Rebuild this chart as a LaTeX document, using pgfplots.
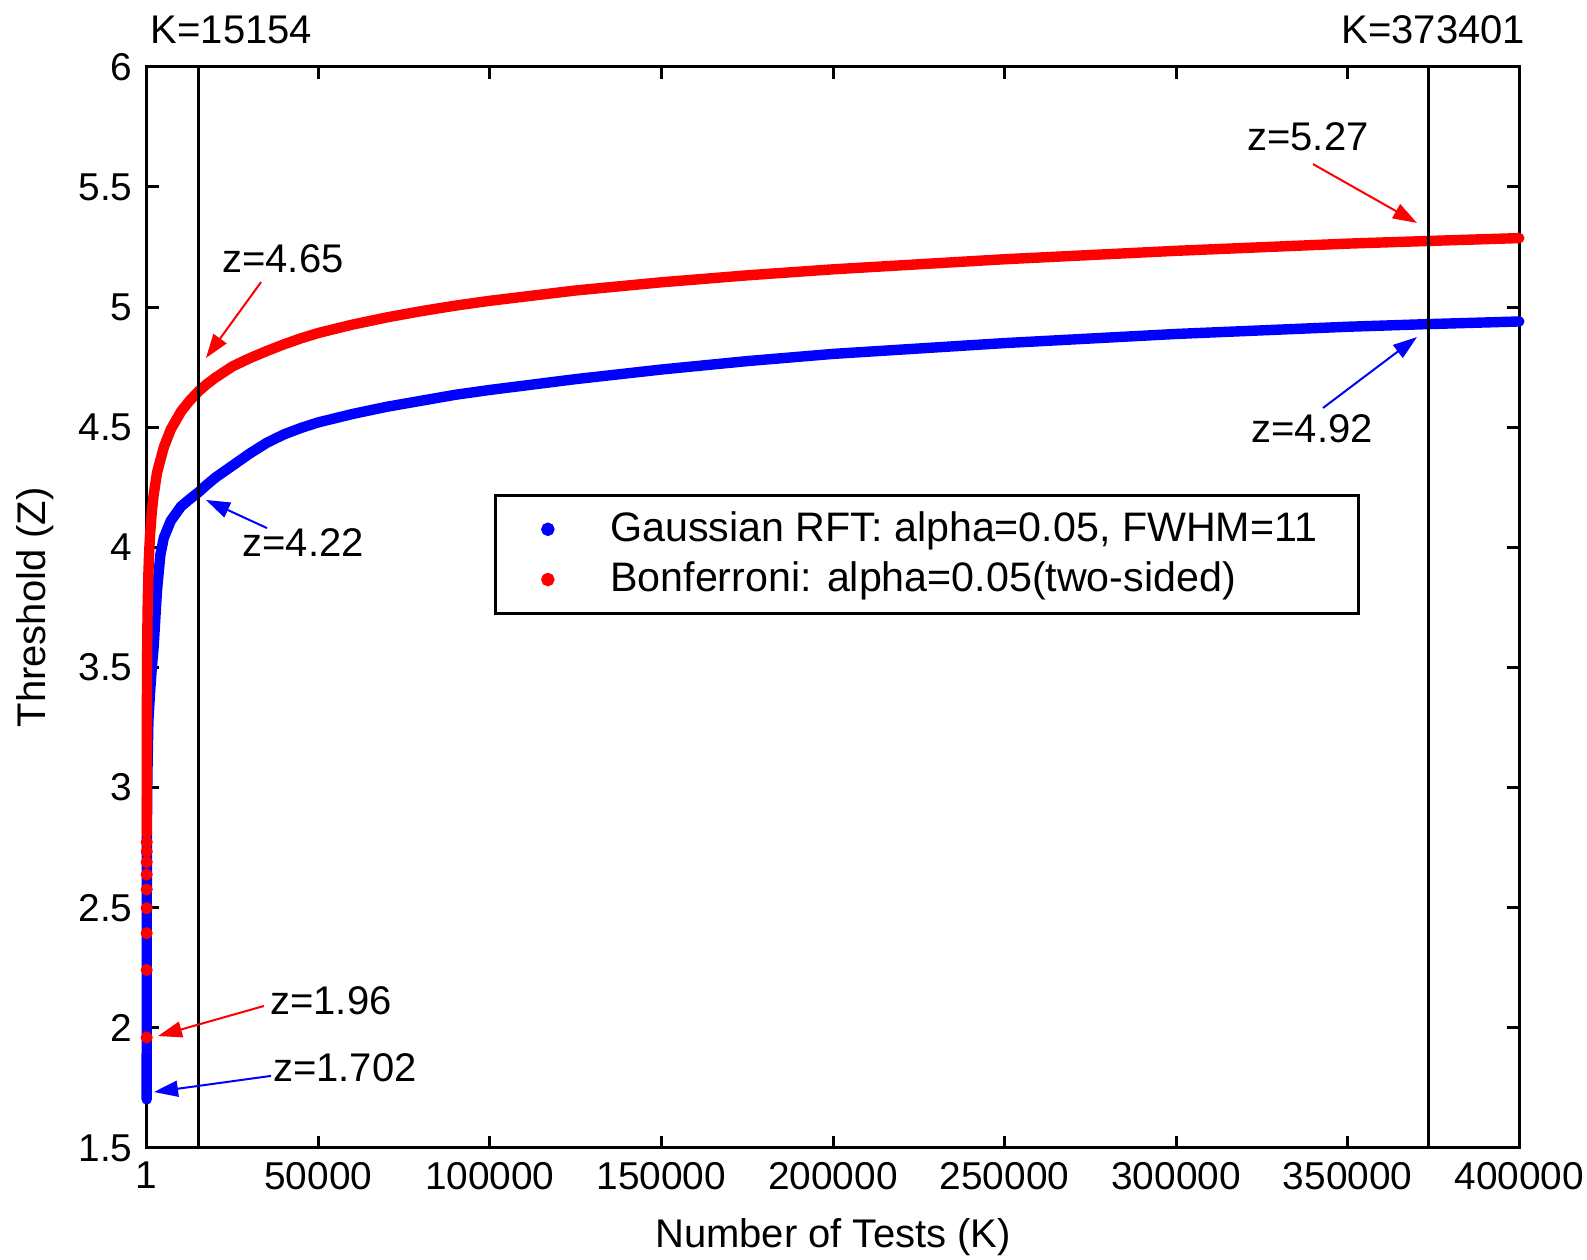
\documentclass[border=0pt]{standalone}
\usepackage{pgfplots}
\pgfplotsset{compat=1.18}
\usepackage{fontspec}
\setmainfont{Liberation Sans}
\usetikzlibrary{arrows.meta}

\pgfplotstableread{
K z
1 1.702
2 1.85
3 1.95
5 2.08
10 2.28
20 2.48
50 2.72
100 2.88
200 3.05
500 3.28
1000 3.40
1500 3.50
2000 3.58
2500 3.70
3000 3.82
4000 3.97
5000 4.04
7000 4.11
10000 4.17
12500 4.20
15154 4.23
17500 4.26
20000 4.29
25000 4.34
30000 4.39
35000 4.435
40000 4.47
45000 4.497
50000 4.52
60000 4.555
70000 4.585
80000 4.61
90000 4.635
100000 4.655
115000 4.682
125000 4.70
150000 4.74
175000 4.775
200000 4.805
250000 4.85
300000 4.888
350000 4.918
373401 4.929
400000 4.94
}\rftdata

\pgfplotstableread{
K z
10 2.807
15 2.935
20 3.023
30 3.144
50 3.291
100 3.481
200 3.662
300 3.765
500 3.891
700 3.975
1000 4.056
1500 4.150
2000 4.215
3000 4.310
5000 4.417
7000 4.490
10000 4.565
12500 4.610
15154 4.650
17500 4.679
20000 4.706
25000 4.753
30000 4.787
35000 4.817
40000 4.845
45000 4.870
50000 4.892
60000 4.927
70000 4.957
80000 4.983
90000 5.006
100000 5.026
125000 5.069
150000 5.103
175000 5.132
200000 5.157
250000 5.199
300000 5.234
350000 5.264
373401 5.275
400000 5.287
}\bonfdata

\pgfplotstableread{
K z
1 1.960
2 2.241
3 2.394
4 2.498
5 2.576
6 2.638
7 2.690
8 2.734
9 2.773
}\bonfdots

\begin{document}
\begin{tikzpicture}
\begin{axis}[
  at={(0pt,0pt)}, anchor=south west,
  scale only axis,
  width=343.15pt, height=270.3pt,
  xmin=1, xmax=400000, ymin=1.5, ymax=6,
  clip=false,
  axis line style={line width=0.75pt},
  every tick/.style={black, line width=0.75pt},
  major tick length=3pt,
  tick align=inside,
  tick pos=both,
  xticklabel pos=lower, yticklabel pos=left,
  xtick={1,50000,100000,150000,200000,250000,300000,350000,400000},
  xticklabels={1,50000,100000,150000,200000,250000,300000,350000,400000},
  ytick={1.5,2,2.5,3,3.5,4,4.5,5,5.5,6},
  yticklabels={1.5,2,2.5,3,3.5,4,4.5,5,5.5,6},
  scaled x ticks=false,
  ticklabel style={font=\fontsize{9.7}{11}\selectfont},
  /pgf/number format/assume math mode=true,
  xlabel={Number of Tests (K)},
  ylabel={Threshold (Z)},
  xlabel style={at={(axis description cs:0.5,-0.0823)}, anchor=center, font=\fontsize{10}{12}\selectfont},
  ylabel style={at={(axis description cs:-0.0814,0.5)}, anchor=center, font=\fontsize{10}{12}\selectfont},
  legend image code/.code={\draw[only marks] plot coordinates {(4.6pt,0pt)}; \path[draw=none] (0pt,0pt) (5.9pt,0pt);},
  legend style={at={(axis description cs:0.253,0.605)}, anchor=north west,
    draw=black, line width=0.75pt, fill=white,
    font=\fontsize{10.3}{12}\selectfont,
    inner xsep=8.5pt, inner ysep=2.2pt, column sep=12.5pt,
    nodes={inner sep=1.8pt},
    cells={anchor=west}},
]
\addplot[blue, line width=2.6pt, line cap=round, line join=round, forget plot] table[x=K,y=z] {\rftdata};
\addplot[red, only marks, mark=*, mark size=1.3pt, forget plot] table[x=K,y=z] {\bonfdots};
\addplot[red, line width=2.6pt, line cap=round, line join=round, forget plot] table[x=K,y=z] {\bonfdata};
\addplot[black, line width=0.75pt, forget plot] coordinates {(15154,1.5) (15154,6)};
\addplot[black, line width=0.75pt, forget plot] coordinates {(373401,1.5) (373401,6)};

\addlegendimage{only marks, mark=*, mark size=1.3pt, blue}
\addlegendentry{Gaussian RFT: alpha=0.05, FWHM=11}
\addlegendimage{only marks, mark=*, mark size=1.3pt, red}
\addlegendentry{Bonferroni: alpha=0.05(two-sided)}

\node[font=\fontsize{10}{12}\selectfont, inner sep=0pt, anchor=west] at (axis cs:1000,6.153) {K=15154};
\node[font=\fontsize{10}{12}\selectfont, inner sep=0pt, anchor=east] at (axis cs:401900,6.153) {K=373401};

\node[font=\fontsize{10}{12}\selectfont] at (axis cs:39720,5.200) {z=4.65};
\draw[red, line width=0.5pt, -{Triangle[length=6pt,width=4pt]}] (axis cs:33340,5.104) -- (axis cs:17280,4.788);

\node[font=\fontsize{10}{12}\selectfont] at (axis cs:45570,4.018) {z=4.22};
\draw[blue, line width=0.5pt, -{Triangle[length=6pt,width=4pt]}] (axis cs:35060,4.080) -- (axis cs:17280,4.197);

\node[font=\fontsize{10}{12}\selectfont] at (axis cs:338420,5.707) {z=5.27};
\draw[red, line width=0.5pt, -{Triangle[length=6pt,width=4pt]}] (axis cs:339880,5.595) -- (axis cs:370180,5.350);

\node[font=\fontsize{10}{12}\selectfont] at (axis cs:339590,4.492) {z=4.92};
\draw[blue, line width=0.5pt, -{Triangle[length=6pt,width=4pt]}] (axis cs:342790,4.580) -- (axis cs:370180,4.875);

\node[font=\fontsize{10}{12}\selectfont] at (axis cs:53710,2.112) {z=1.96};
\draw[red, line width=0.5pt, -{Triangle[length=6pt,width=4pt]}] (axis cs:34170,2.091) -- (axis cs:3300,1.966);

\node[font=\fontsize{10}{12}\selectfont] at (axis cs:57790,1.833) {z=1.702};
\draw[blue, line width=0.5pt, -{Triangle[length=6pt,width=4pt]}] (axis cs:36250,1.800) -- (axis cs:2130,1.733);
\end{axis}
\pgfresetboundingbox
\path[use as bounding box] (-36.675pt,-28pt) rectangle (360.075pt,287pt);
\end{tikzpicture}
\end{document}
